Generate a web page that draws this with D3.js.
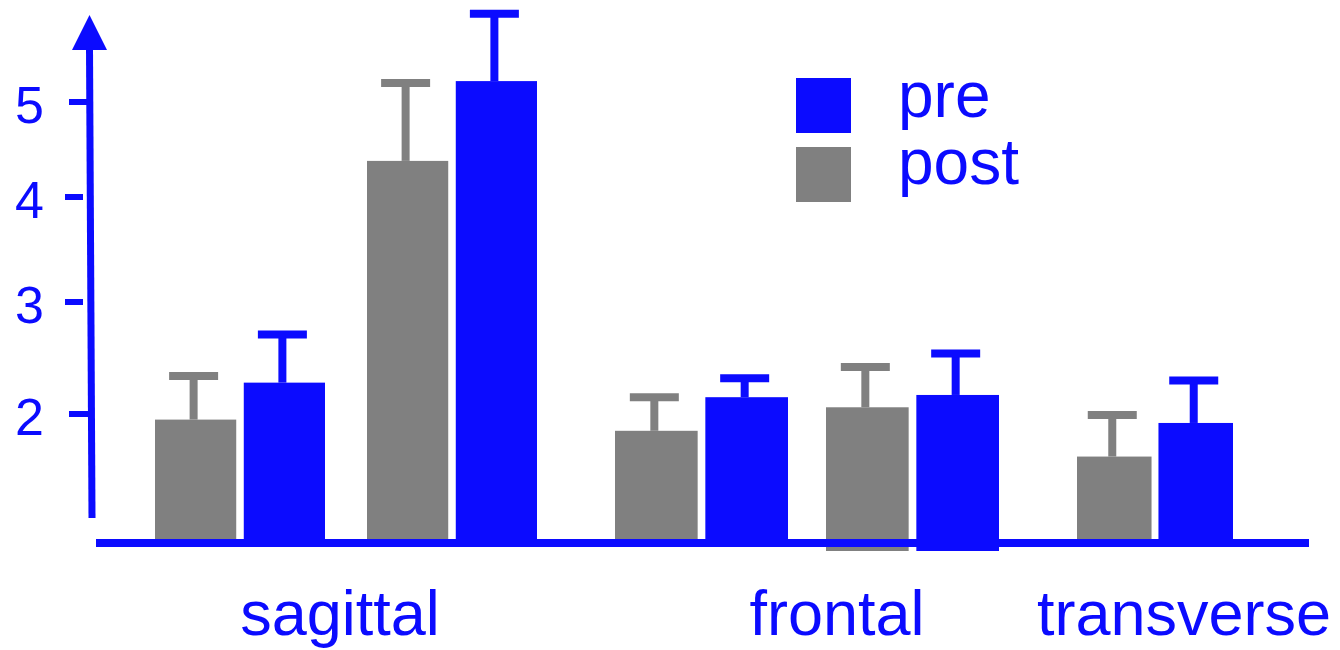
<!DOCTYPE html>
<html>
<head>
<meta charset="utf-8">
<script src="https://cdn.jsdelivr.net/npm/d3@7"></script>
<style>
  html, body { margin: 0; padding: 0; background: #ffffff; }
  svg { display: block; }
  text { font-family: "Liberation Sans", Arial, Helvetica, sans-serif; }
</style>
</head>
<body>
<script>
// Joint range of motion by plane, before (pre) and after (post)
const categories = ["sagittal", "frontal", "transverse"];
const pairCategory = ["sagittal", "sagittal", "frontal", "frontal", "transverse"];
const postValues = [1.95, 4.38, 1.85, 2.06, 1.62];
const postErrors = [0.39, 0.82, 0.30, 0.36, 0.37];
const preValues  = [2.28, 5.22, 2.15, 2.17, 1.92];
const preErrors  = [0.43, 0.71, 0.17, 0.37, 0.38];
const yTickValues = [2, 3, 4, 5];
const legendNames = ["pre", "post"];

const W = 1340, H = 650;
const BLUE = "#0b0bff", GREY = "#808080";

const svg = d3.select("body").append("svg")
  .attr("width", W).attr("height", H);

// Hand-spaced value axis: unequal gaps between the tick steps
const y = d3.scaleLinear()
  .domain([1, 2, 3, 4, 5])
  .range([526, 414, 302, 197, 102]);

const baseY = 543;          // centre of the horizontal axis line
const startX = 155, groupGap = 78;
const pairWidth = { sagittal: 170, frontal: 173, transverse: 156 };
const innerGap  = { sagittal: 42, frontal: 38, transverse: 38 };

// Left edge and width of each post/pre pair
const pairX = [], pairW = [];
let cursor = startX;
pairCategory.forEach((c, i) => {
  if (i > 0) cursor += (c === pairCategory[i - 1] ? innerGap[c] : groupGap);
  pairX.push(cursor);
  pairW.push(pairWidth[c]);
  cursor += pairWidth[c];
});

// one band scale per pair, splitting it into post and pre
const sub = pairX.map((x0, i) => d3.scaleBand()
  .domain(["post", "pre"])
  .range([x0, x0 + pairW[i]])
  .paddingInner(0.085));

const colour = d3.scaleOrdinal().domain(["pre", "post"]).range([BLUE, GREY]);

// the second frontal pair reaches a little below the axis line
const bottomOverhang = [0, 0, 0, 8, 0];

const bars = [];
pairCategory.forEach((c, i) => {
  bars.push({ pair: i, series: "post", value: postValues[i], err: postErrors[i] });
  bars.push({ pair: i, series: "pre",  value: preValues[i],  err: preErrors[i] });
});

const barG = svg.append("g");
barG.selectAll("rect.bar")
  .data(bars)
  .join("rect")
  .attr("class", "bar")
  .attr("x", d => sub[d.pair](d.series))
  .attr("width", d => sub[d.pair].bandwidth())
  .attr("y", d => y(d.value))
  .attr("height", d => baseY + bottomOverhang[d.pair] - y(d.value))
  .attr("fill", d => colour(d.series));

// upper error bars: stem plus cap
const capW = 49, errStroke = 8;
const errG = svg.append("g");
bars.forEach(d => {
  const s = sub[d.pair];
  const cx = s(d.series) + s.bandwidth() / 2 - 2;
  const top = y(d.value + d.err);
  errG.append("line")
    .attr("x1", cx).attr("x2", cx)
    .attr("y1", y(d.value)).attr("y2", top)
    .attr("stroke", colour(d.series)).attr("stroke-width", errStroke);
  errG.append("line")
    .attr("x1", cx - capW / 2).attr("x2", cx + capW / 2)
    .attr("y1", top).attr("y2", top)
    .attr("stroke", colour(d.series)).attr("stroke-width", errStroke);
});

// horizontal axis line
svg.append("line")
  .attr("x1", 96).attr("x2", 1309)
  .attr("y1", baseY).attr("y2", baseY)
  .attr("stroke", BLUE).attr("stroke-width", 8);

// vertical axis with arrow head
svg.append("line")
  .attr("x1", 89.5).attr("y1", 48)
  .attr("x2", 92).attr("y2", 518)
  .attr("stroke", BLUE).attr("stroke-width", 7);
svg.append("path")
  .attr("d", "M89.5,15 L72,50 L107,50 Z")
  .attr("fill", BLUE);

// tick marks (4 and 3 sit a little off the axis line)
const tickExtent = { 5: [69, 91], 4: [65, 83], 3: [65, 83], 2: [69, 91] };
svg.append("g").selectAll("line")
  .data(yTickValues)
  .join("line")
  .attr("x1", d => tickExtent[d][0])
  .attr("x2", d => tickExtent[d][1])
  .attr("y1", d => y(d)).attr("y2", d => y(d))
  .attr("stroke", BLUE).attr("stroke-width", 6);

svg.append("g").selectAll("text")
  .data(yTickValues)
  .join("text")
  .attr("x", 44)
  .attr("y", d => y(d) + 21)
  .attr("text-anchor", "end")
  .attr("font-size", 52)
  .attr("fill", BLUE)
  .text(d => d);

// plane labels under the bars
const labelX = { sagittal: 340, frontal: 837, transverse: 1184 };
svg.append("g").selectAll("text")
  .data(categories)
  .join("text")
  .attr("x", d => labelX[d])
  .attr("y", 635)
  .attr("text-anchor", "middle")
  .attr("font-size", 63)
  .attr("fill", BLUE)
  .text(d => d);

// legend
const leg = svg.append("g");
legendNames.forEach((name, i) => {
  leg.append("rect")
    .attr("x", 796).attr("y", 78 + i * 69)
    .attr("width", 55).attr("height", 55)
    .attr("fill", colour(name));
  leg.append("text")
    .attr("x", 898).attr("y", 117 + i * 67)
    .attr("font-size", 64)
    .attr("fill", BLUE)
    .text(name);
});
</script>
</body>
</html>
